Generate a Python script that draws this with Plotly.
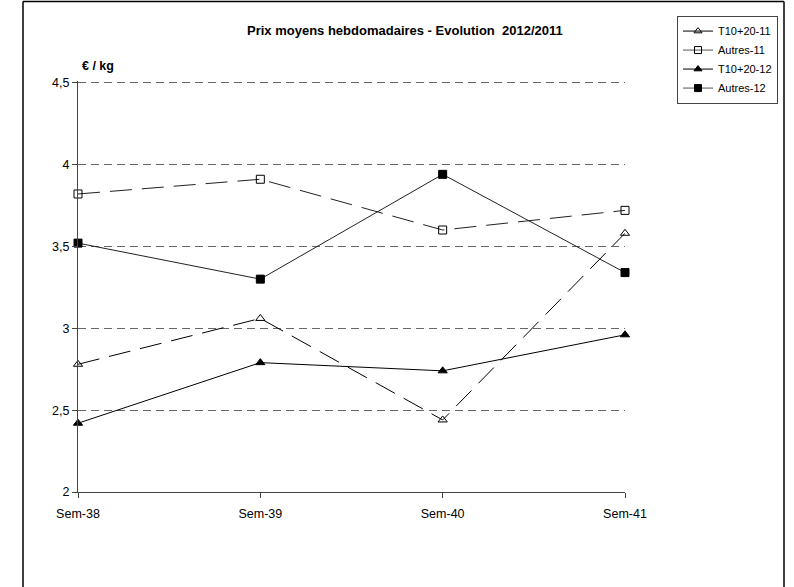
import plotly.graph_objects as go

categories = ["Sem-38", "Sem-39", "Sem-40", "Sem-41"]
t1020_11 = [2.78, 3.06, 2.44, 3.58]
autres_11 = [3.82, 3.91, 3.60, 3.72]
t1020_12 = [2.42, 2.79, 2.74, 2.96]
autres_12 = [3.52, 3.30, 3.94, 3.34]
y_ticks = [2, 2.5, 3, 3.5, 4, 4.5]

title_text = "Prix moyens hebdomadaires - Evolution  2012/2011"
unit_text = "€ / kg"

x_idx = list(range(len(categories)))
FONT = "Liberation Sans, Arial, sans-serif"

series = [
    ("T10+20-11", t1020_11, "triangle-up-open", "22px,10px", "black"),
    ("Autres-11", autres_11, "square-open", "22px,10px", "#222"),
    ("T10+20-12", t1020_12, "triangle-up", "solid", "black"),
    ("Autres-12", autres_12, "square", "solid", "#222"),
]

fig = go.Figure()
for name, vals, sym, dash, col in series:
    fig.add_trace(go.Scatter(
        x=x_idx, y=vals, mode="lines+markers", name=name,
        line=dict(color=col, width=1, dash=dash),
        marker=dict(symbol=sym, size=8, color="black",
                    line=dict(color="black", width=1)),
        showlegend=False, legendgroup=name, cliponaxis=False,
    ))
for name, vals, sym, dash, col in series:
    fig.add_trace(go.Scatter(
        x=[None], y=[None], mode="lines+markers", name=name,
        line=dict(color="black" if "T10" in name else "#555", width=1),
        marker=dict(symbol=sym, size=7, color="black",
                    line=dict(color="black", width=1)),
        showlegend=True, legendgroup=name,
    ))

W, H = 794, 587
PAD_TOP = 0.01            # small headroom so the top gridline is drawn
L, R, B = 78, 625, 492
unit_px = (492 - 83) / (y_ticks[-1] - y_ticks[0])
T = 83 - PAD_TOP * unit_px
pw, ph = R - L, B - T


def px_x(p):
    return (p - L) / pw


def px_y(p):
    return (B - p) / ph


y_range = [y_ticks[0], y_ticks[-1] + PAD_TOP]

fig.update_layout(
    width=W, height=H,
    margin=dict(l=L, r=W - R, t=T, b=H - B, pad=0),
    paper_bgcolor="white", plot_bgcolor="white",
    separators=",.",
    font=dict(family=FONT, size=12, color="black"),
    showlegend=True,
    legend=dict(
        x=px_x(677), y=px_y(16), xanchor="left", yanchor="top",
        bordercolor="#444", borderwidth=1, bgcolor="white",
        font=dict(family=FONT, size=11, color="black"),
        tracegroupgap=0, itemwidth=30,
    ),
    xaxis=dict(
        range=[0, len(categories) - 1], tickvals=x_idx, ticktext=categories,
        showgrid=False, zeroline=False, showline=True, linecolor="#444",
        linewidth=1, ticks="outside", ticklen=5, tickcolor="#444",
        ticklabelstandoff=5,
        tickfont=dict(size=12.5, family=FONT), fixedrange=True,
    ),
    xaxis2=dict(
        range=[0, len(categories) - 1], tickvals=x_idx, overlaying="x",
        showticklabels=False, showgrid=False, zeroline=False,
        ticks="inside", ticklen=5, tickcolor="#444", showline=False,
    ),
    yaxis=dict(
        range=y_range, tickvals=y_ticks,
        showgrid=True, gridcolor="#666", griddash="8px,5px", gridwidth=1,
        zeroline=False, showline=True, linecolor="#444", linewidth=1,
        ticks="outside", ticklen=5, tickcolor="#444",
        tickfont=dict(size=12.5, family=FONT), fixedrange=True,
    ),
    yaxis2=dict(
        range=y_range, tickvals=y_ticks, overlaying="y",
        showticklabels=False, showgrid=False, zeroline=False,
        ticks="inside", ticklen=5, tickcolor="#444", showline=False,
    ),
    annotations=[
        dict(text="<b>" + title_text + "</b>", xref="paper", yref="paper",
             x=px_x(405), y=px_y(31), xanchor="center", yanchor="middle",
             showarrow=False, font=dict(size=13, family=FONT)),
        dict(text="<b>" + unit_text + "</b>", xref="paper", yref="paper",
             x=px_x(80), y=px_y(66), xanchor="left", yanchor="middle",
             showarrow=False, font=dict(size=12.5, family=FONT)),
    ],
    shapes=[
        dict(type="line", xref="paper", yref="paper", x0=px_x(23), x1=px_x(23),
             y0=px_y(2), y1=px_y(600), line=dict(color="black", width=1.5)),
        dict(type="line", xref="paper", yref="paper", x0=px_x(23), x1=px_x(784),
             y0=px_y(2), y1=px_y(2), line=dict(color="black", width=1.5)),
        dict(type="line", xref="paper", yref="paper", x0=px_x(784), x1=px_x(784),
             y0=px_y(2), y1=px_y(600), line=dict(color="black", width=1.5)),
    ],
)

fig.write_html("out.html", config={"displayModeBar": False},
               post_script="document.body.style.margin='0';")
